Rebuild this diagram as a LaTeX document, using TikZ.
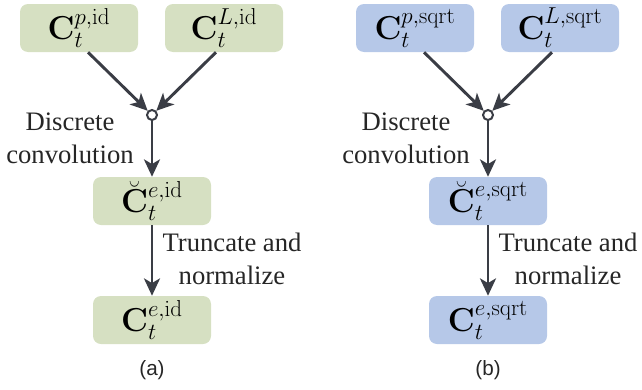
\documentclass[tikz,border=0pt]{standalone}
\usepackage{amsmath}
\usepackage[no-math]{fontspec}
\setmainfont{Liberation Serif}
\setsansfont{Liberation Sans}
\usetikzlibrary{arrows.meta}
\definecolor{boxgreen}{HTML}{D6E0C2}
\definecolor{boxblue}{HTML}{B6C8E8}
\definecolor{arrowgray}{HTML}{3A3D45}
\tikzset{
  panelbox/.style={rectangle, rounded corners=6pt, draw=none,
    minimum width=88.5pt, minimum height=36pt, inner sep=0pt,
    font=\fontsize{23}{25}\selectfont},
  joint/.style={circle, draw=arrowgray, fill=white, line width=1.5pt,
    minimum size=7.5pt, inner sep=0pt},
  flow/.style={draw=arrowgray, line width=2.2pt,
    -{Stealth[length=13pt, width=12pt, inset=3.5pt]}},
  steplabel/.style={align=center, font=\rmfamily\fontsize{20}{24.5}\selectfont,
    text=black!85},
  caplabel/.style={font=\sffamily\fontsize{15.5}{18}\selectfont, text=black!85}
}
\begin{document}
\begin{tikzpicture}[x=0.75pt, y=-0.75pt]
\useasboundingbox (0,0) rectangle (642,389);

% left panel: identity parameterisation
\node[panelbox, fill=boxgreen] (pa) at (79,28) {$\mathbf{C}_t^{p,\mathrm{id}}$};
\node[panelbox, fill=boxgreen] (la) at (224,28) {$\mathbf{C}_t^{L,\mathrm{id}}$};
\node[joint] (ja) at (152,115) {};
\node[panelbox, fill=boxgreen] (ma) at (152,201) {$\breve{\mathbf{C}}_t^{e,\mathrm{id}}$};
\node[panelbox, fill=boxgreen] (ba) at (152,320) {$\mathbf{C}_t^{e,\mathrm{id}}$};
\draw[flow] ([xshift=6.75pt]pa.south) -- (ja);
\draw[flow] ([xshift=-6pt]la.south) -- (ja);
\draw[flow] (ja) -- (ma);
\draw[flow] (ma) -- (ba);
\node[steplabel] (da) at (70,138) {Discrete\\convolution};
\node[steplabel] (ta) at (232,259) {Truncate and\\normalize};
\node[caplabel] (ca) at (152,370) {(a)};

% right panel: square-root parameterisation
\node[panelbox, fill=boxblue] (pb) at (415,28) {$\mathbf{C}_t^{p,\mathrm{sqrt}}$};
\node[panelbox, fill=boxblue] (lb) at (560,28) {$\mathbf{C}_t^{L,\mathrm{sqrt}}$};
\node[joint] (jb) at (488,115) {};
\node[panelbox, fill=boxblue] (mb) at (488,201) {$\breve{\mathbf{C}}_t^{e,\mathrm{sqrt}}$};
\node[panelbox, fill=boxblue] (bb) at (488,320) {$\mathbf{C}_t^{e,\mathrm{sqrt}}$};
\draw[flow] ([xshift=6.75pt]pb.south) -- (jb);
\draw[flow] ([xshift=-6pt]lb.south) -- (jb);
\draw[flow] (jb) -- (mb);
\draw[flow] (mb) -- (bb);
\node[steplabel] (db) at (406,138) {Discrete\\convolution};
\node[steplabel] (tb) at (568,259) {Truncate and\\normalize};
\node[caplabel] (cb) at (488,370) {(b)};
\end{tikzpicture}
\end{document}
